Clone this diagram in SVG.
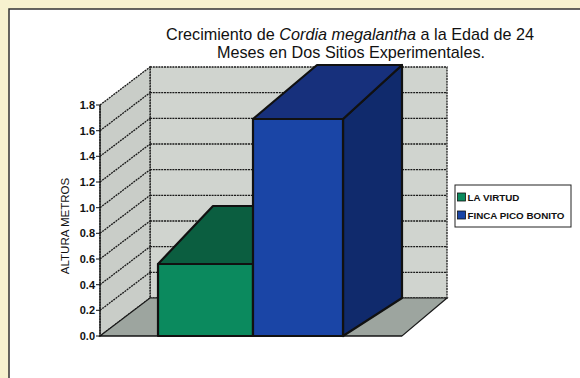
<svg xmlns="http://www.w3.org/2000/svg" width="580" height="378" viewBox="0 0 580 378">
<defs>
<style>
.grid{stroke:#1a1a1a;stroke-width:1.3;stroke-dasharray:2 0.8;fill:none}
.edge{stroke:#111;stroke-width:2.2;stroke-linejoin:round}
.lbl{font-family:"Liberation Sans",Arial,sans-serif;font-weight:bold;font-size:11px;fill:#111;text-anchor:end}
.tick{stroke:#111;stroke-width:1}
.title{font-family:"Liberation Sans",Arial,sans-serif;font-size:16.2px;fill:#111;text-anchor:middle}
.leg{font-family:"Liberation Sans",Arial,sans-serif;font-weight:bold;font-size:9.8px;fill:#111}
</style>
</defs>
<rect x="0" y="0" width="580" height="378" fill="#f7f2cf"/>
<rect x="9" y="9" width="575" height="375" fill="#ffffff" stroke="#333" stroke-width="1.5"/>
<g id="title">
<text class="title" x="350" y="40">Crecimiento de <tspan font-style="italic">Cordia megalantha</tspan> a la Edad de 24</text>
<text class="title" x="351" y="58">Meses en Dos Sitios Experimentales.</text>
</g>
<g id="walls">
<polygon points="150,67 447,67 447,298 150,298" fill="#d0d4cf" stroke="#1a1a1a" stroke-width="1.3" stroke-dasharray="2 0.8"/>
<polygon points="100,105 150,67 150,298 100,336" fill="#c9cdc8" stroke="#1a1a1a" stroke-width="1.3" stroke-dasharray="2 0.8"/>
<polygon points="100,336 150,298 447,298 402,336" fill="#9da59f" stroke="#1a1a1a" stroke-width="1.2"/>
<g class="grid">
<line x1="150" y1="272.3" x2="447" y2="272.3"/>
<line x1="150" y1="246.7" x2="447" y2="246.7"/>
<line x1="150" y1="221" x2="447" y2="221"/>
<line x1="150" y1="195.3" x2="447" y2="195.3"/>
<line x1="150" y1="169.7" x2="447" y2="169.7"/>
<line x1="150" y1="144" x2="447" y2="144"/>
<line x1="150" y1="118.3" x2="447" y2="118.3"/>
<line x1="150" y1="92.7" x2="447" y2="92.7"/>
<line x1="100" y1="310.3" x2="150" y2="272.3"/>
<line x1="100" y1="284.7" x2="150" y2="246.7"/>
<line x1="100" y1="259" x2="150" y2="221"/>
<line x1="100" y1="233.3" x2="150" y2="195.3"/>
<line x1="100" y1="207.7" x2="150" y2="169.7"/>
<line x1="100" y1="182" x2="150" y2="144"/>
<line x1="100" y1="156.3" x2="150" y2="118.3"/>
<line x1="100" y1="130.7" x2="150" y2="92.7"/>
</g>
</g>
<g id="axis">
<line x1="100" y1="105" x2="100" y2="336" stroke="#111" stroke-width="1.2"/>
<line x1="100" y1="336" x2="402" y2="336" stroke="#111" stroke-width="1.2"/>
<g class="tick">
<line x1="96" y1="336" x2="100" y2="336"/>
<line x1="96" y1="310.3" x2="100" y2="310.3"/>
<line x1="96" y1="284.7" x2="100" y2="284.7"/>
<line x1="96" y1="259" x2="100" y2="259"/>
<line x1="96" y1="233.3" x2="100" y2="233.3"/>
<line x1="96" y1="207.7" x2="100" y2="207.7"/>
<line x1="96" y1="182" x2="100" y2="182"/>
<line x1="96" y1="156.3" x2="100" y2="156.3"/>
<line x1="96" y1="130.7" x2="100" y2="130.7"/>
<line x1="96" y1="105" x2="100" y2="105"/>
</g>
<text class="lbl" x="95" y="340">0.0</text>
<text class="lbl" x="95" y="314.3">0.2</text>
<text class="lbl" x="95" y="288.7">0.4</text>
<text class="lbl" x="95" y="263">0.6</text>
<text class="lbl" x="95" y="237.3">0.8</text>
<text class="lbl" x="95" y="211.7">1.0</text>
<text class="lbl" x="95" y="186">1.2</text>
<text class="lbl" x="95" y="160.3">1.4</text>
<text class="lbl" x="95" y="134.7">1.6</text>
<text class="lbl" x="95" y="109">1.8</text>
<text x="69" y="226" transform="rotate(-90 69 226)" font-family="'Liberation Sans',Arial,sans-serif" font-size="11.5" fill="#111" text-anchor="middle">ALTURA METROS</text>
</g>
<g id="bar-la-virtud">
<polygon class="edge" points="158,264 213,206 312,206 253,264" fill="#0b5e40"/>
<rect class="edge" x="158" y="264" width="95" height="72" fill="#0b8a5e"/>
</g>
<g id="bar-finca-pico-bonito">
<polygon class="edge" points="343,119 402,65 402,298 343,336" fill="#102a6c"/>
<polygon class="edge" points="253,119 317,65 402,65 343,119" fill="#17307c"/>
<rect class="edge" x="253" y="119" width="90" height="217" fill="#1a45a6"/>
</g>
<g id="legend">
<rect x="455" y="185" width="116" height="42" fill="#ffffff" stroke="#222" stroke-width="1"/>
<rect x="457.5" y="193" width="8" height="8" fill="#0b8a5e" stroke="#111" stroke-width="0.8"/>
<text class="leg" x="467.5" y="200.5">LA VIRTUD</text>
<rect x="457.5" y="211" width="8" height="8" fill="#1a45a6" stroke="#111" stroke-width="0.8"/>
<text class="leg" x="467.5" y="218.5">FINCA PICO BONITO</text>
</g>
</svg>
